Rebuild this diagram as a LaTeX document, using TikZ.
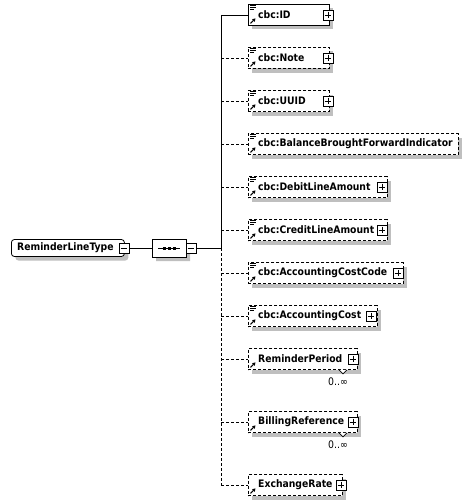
\documentclass[tikz,border=0pt]{standalone}
\usepackage{fontspec}
\setmainfont{DejaVu Sans Condensed}
\usetikzlibrary{shadows,arrows.meta,shapes.misc}
\newcommand\xplus[3]{%
  \node[pbox] (#1) at (#2,#3) {};
  \draw[line width=0.8pt] ([xshift=2pt]#1.west) -- ([xshift=-2pt]#1.east)
    ([yshift=-2pt]#1.north) -- ([yshift=2pt]#1.south);
}
\newcommand\xminus[3]{%
  \node[pbox] (#1) at (#2,#3) {};
  \draw[line width=0.8pt] ([xshift=2pt]#1.west) -- ([xshift=-2pt]#1.east);
}
\newcommand\eqic[1]{%
  \draw[line width=0.8pt] ([shift={(2,1.5)}]#1.north west) -- ++(6,0)
    ([shift={(2,3.5)}]#1.north west) -- ++(6,0)
    ([shift={(2,5.5)}]#1.north west) -- ++(4,0);
}
\newcommand\arric[1]{%
  \draw[line width=1pt,-{Triangle[length=3pt,width=3.5pt]}] ([shift={(2.5,-2.5)}]#1.south west) -- ++(5,-5);
}
\newcommand\chev[2]{%
  \draw[line width=0.8pt,fill=white] ([xshift=#2-4]#1.south west) -- ([xshift=#2,yshift=-4pt]#1.south west) -- ([xshift=#2+4]#1.south west);
}
\begin{document}
\begin{tikzpicture}[x=1pt,y=-1pt,
  shad/.style={drop shadow={shadow xshift=4pt,shadow yshift=-4pt,fill=black!25,opacity=1}},
  ebox/.style={draw,fill=white,line width=0.8pt,minimum height=21pt,inner sep=0pt,anchor=west,shad},
  dbox/.style={ebox,dash pattern=on 3pt off 2pt},
  etext/.style={anchor=west,inner sep=0pt,font=\fontsize{10.3}{12}\selectfont\bfseries},
  pbox/.style={draw,fill=white,line width=0.8pt,minimum size=10pt,inner sep=0pt},
  occ/.style={inner sep=0pt,font=\fontsize{10.4}{12}\selectfont},
  conn/.style={line width=0.8pt},
  dconn/.style={line width=0.8pt,dash pattern=on 3pt off 2pt}]
\useasboundingbox (0,0) rectangle (470,503);

% root type
\node[draw,fill=white,line width=0.8pt,rounded corners=3pt,minimum width=113pt,minimum height=17pt,inner sep=0pt,anchor=west,shad] (rlt) at (11,248) {};
\node[etext] (rltt) at (17,248) {ReminderLineType};
\xminus{rltm}{124}{248}

% sequence compositor
\node[chamfered rectangle,chamfered rectangle xsep=5pt,chamfered rectangle ysep=5pt,draw,fill=white,line width=0.8pt,minimum width=34pt,minimum height=18pt,inner sep=0pt,shad] (seq) at (169,248) {};
\draw[line width=0.8pt] ([xshift=-11pt]seq.center) -- ([xshift=11pt]seq.center);
\foreach \dx in {-5,0,5} \fill ([xshift=\dx pt]seq.center) +(-1.5,-1.5) rectangle +(1.5,1.5);
\xminus{seqm}{191}{248}
\draw[conn] (rltm.east) -- (seq.west);

\coordinate (vtop) at (221,15);
\coordinate (vmid) at (221,248);
\coordinate (vbot) at (221,485);
\draw[conn] (seqm.east) -- (vmid);
\draw[conn] (vtop) -- (vmid);
\draw[dconn] (vmid) -- (vbot);

% children
\node[ebox,minimum width=81pt] (id) at (248,15) {};
\node[etext] (idt) at (258,15) {cbc:ID};
\xplus{idp}{328}{15} \eqic{id} \arric{id}
\draw[conn] (id.west -| vtop) -- (id.west);

\node[dbox,minimum width=81pt] (note) at (248,58) {};
\node[etext] (notet) at (258,58) {cbc:Note};
\xplus{notep}{328}{58} \eqic{note} \arric{note}
\draw[dconn] (note.west -| vtop) -- (note.west);

\node[dbox,minimum width=81pt] (uuid) at (248,101) {};
\node[etext] (uuidt) at (258,101) {cbc:UUID};
\xplus{uuidp}{328}{101} \eqic{uuid} \arric{uuid}
\draw[dconn] (uuid.west -| vtop) -- (uuid.west);

\node[dbox,minimum width=210pt] (bbfi) at (248,144) {};
\node[etext] (bbfit) at (258,144) {cbc:BalanceBroughtForwardIndicator};
\eqic{bbfi} \arric{bbfi}
\draw[dconn] (bbfi.west -| vtop) -- (bbfi.west);

\node[dbox,minimum width=139pt] (dla) at (248,187) {};
\node[etext] (dlat) at (258,187) {cbc:DebitLineAmount};
\xplus{dlap}{382}{187} \eqic{dla} \arric{dla}
\draw[dconn] (dla.west -| vtop) -- (dla.west);

\node[dbox,minimum width=139pt] (cla) at (248,230) {};
\node[etext] (clat) at (258,230) {cbc:CreditLineAmount};
\xplus{clap}{382}{230} \eqic{cla} \arric{cla}
\draw[dconn] (cla.west -| vtop) -- (cla.west);

\node[dbox,minimum width=155pt] (acc) at (248,273) {};
\node[etext] (acct) at (258,273) {cbc:AccountingCostCode};
\xplus{accp}{398}{273} \eqic{acc} \arric{acc}
\draw[dconn] (acc.west -| vtop) -- (acc.west);

\node[dbox,minimum width=129pt] (ac) at (248,316) {};
\node[etext] (act) at (258,316) {cbc:AccountingCost};
\xplus{acp}{371}{316} \eqic{ac} \arric{ac}
\draw[dconn] (ac.west -| vtop) -- (ac.west);

\node[dbox,minimum width=109pt] (rp) at (248,359) {};
\node[etext] (rpt) at (258,359) {ReminderPeriod};
\xplus{rpp}{353}{359} \arric{rp}
\chev{rp}{95}
\node[occ] (rpo) at (338,382) {0..∞};
\draw[dconn] (rp.west -| vtop) -- (rp.west);

\node[dbox,minimum width=109pt] (br) at (248,422) {};
\node[etext] (brt) at (258,422) {BillingReference};
\xplus{brp}{353}{422} \arric{br}
\chev{br}{95}
\node[occ] (bro) at (338,445) {0..∞};
\draw[dconn] (br.west -| vtop) -- (br.west);

\node[dbox,minimum width=94pt] (er) at (248,485) {};
\node[etext] (ert) at (258,485) {ExchangeRate};
\xplus{erp}{341}{485} \arric{er}
\draw[dconn] (er.west -| vtop) -- (er.west);
\end{tikzpicture}
\end{document}
